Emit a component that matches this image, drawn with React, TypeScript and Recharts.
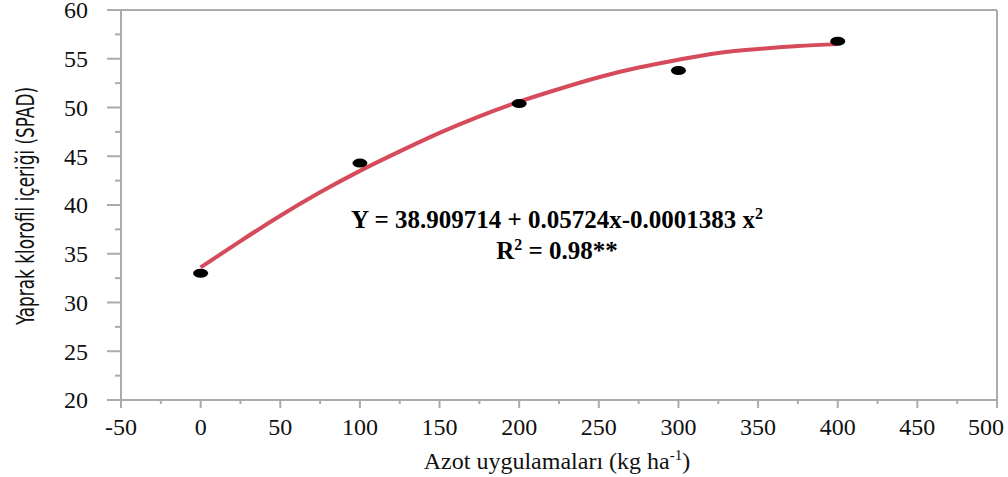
import {
  ComposedChart,
  Line,
  Scatter,
  XAxis,
  YAxis,
  ReferenceLine,
} from "recharts";

// measured points (SPAD by N dose)
const doses = [0, 100, 200, 300, 400];
const spad = [33.0, 44.3, 50.4, 53.8, 56.8];

// fitted curve
const curveX = [0, 25, 50, 75, 100, 125, 150, 175, 200, 225, 250, 275, 300, 325, 350, 375, 400];
const curveY = [33.6, 36.3, 38.9, 41.3, 43.5, 45.5, 47.4, 49.1, 50.6, 51.9, 53.1, 54.1, 54.9, 55.6, 56.0, 56.3, 56.5];

const xTicks = [-50, -25, 0, 25, 50, 75, 100, 125, 150, 175, 200, 225, 250, 275, 300, 325, 350, 375, 400, 425, 450, 475, 500];
const yTicks = [20, 22.5, 25, 27.5, 30, 32.5, 35, 37.5, 40, 42.5, 45, 47.5, 50, 52.5, 55, 57.5, 60];

const points = doses.map((x, i) => ({ x, y: spad[i] }));
const curve = curveX.map((x, i) => ({ x, y: curveY[i] }));

const AXIS = "#ababab";
const serif = { fontFamily: "'Liberation Serif', 'Times New Roman', serif" };

function XTick(props: any) {
  const { x, y, payload } = props;
  const major = payload.value % 50 === 0;
  const last = payload.value === 500;
  return (
    <g>
      <line x1={x} x2={x} y1={y} y2={y + (major ? 8 : 4)} stroke={AXIS} strokeWidth={2} />
      {major && (
        <text
          x={last ? x + 7 : x}
          y={y + 18}
          dy="0.71em"
          textAnchor={last ? "end" : "middle"}
          style={serif}
          fontSize={24}
          fill="#111"
        >
          {payload.value}
        </text>
      )}
    </g>
  );
}

function YTick(props: any) {
  const { x, y, payload } = props;
  const major = payload.value % 5 === 0;
  return (
    <g>
      <line x1={x - (major ? 14 : 6)} x2={x} y1={y} y2={y} stroke={AXIS} strokeWidth={2} />
      {major && (
        <text x={x - 33} y={y} dy="0.35em" textAnchor="end" style={serif} fontSize={24} fill="#111">
          {payload.value}
        </text>
      )}
    </g>
  );
}

const Dot = (props: any) => (
  <ellipse cx={props.cx} cy={props.cy} rx={7.5} ry={4.5} fill="#000" />
);

export default function App() {
  return (
    <div style={{ position: "absolute", left: 0, top: 0, width: 1008, height: 477, background: "#fff" }}>
      <ComposedChart
        width={1008}
        height={477}
        margin={{ top: 10, right: 11, left: 61, bottom: 47 }}
      >
        <XAxis
          dataKey="x"
          type="number"
          domain={[-50, 500]}
          ticks={xTicks}
          interval={0}
          tickSize={0}
          tickMargin={0}
          tick={<XTick />}
          height={30}
          stroke={AXIS}
          strokeWidth={2}
        />
        <YAxis
          type="number"
          domain={[20, 60]}
          ticks={yTicks}
          interval={0}
          tickSize={0}
          tickMargin={0}
          tick={<YTick />}
          width={60}
          stroke={AXIS}
          strokeWidth={2}
        />
        <ReferenceLine y={60} stroke={AXIS} strokeWidth={2} />
        <ReferenceLine x={500} stroke={AXIS} strokeWidth={2} />
        <Line
          data={curve}
          dataKey="y"
          type="natural"
          stroke="#d64b5b"
          strokeWidth={4}
          dot={false}
          activeDot={false}
          isAnimationActive={false}
        />
        <Scatter data={points} dataKey="y" shape={<Dot />} isAnimationActive={false} />
      </ComposedChart>
      <svg
        width={1008}
        height={477}
        style={{ position: "absolute", left: 0, top: 0, pointerEvents: "none" }}
      >
        <text
          transform="translate(34,206) rotate(-90)"
          textAnchor="middle"
          style={{ fontFamily: "Liberation Sans Narrow, DejaVu Sans Condensed, sans-serif" }}
          fontSize={25}
          textLength={238}
          lengthAdjust="spacingAndGlyphs"
          fill="#111"
        >
          Yaprak klorofil içeriği (SPAD)
        </text>
        <text x={557} y={469} textAnchor="middle" style={serif} fontSize={24} fill="#111">
          Azot uygulamaları (kg ha<tspan dy={-9} fontSize={15}>-1</tspan>
          <tspan dy={9}>)</tspan>
        </text>
        <text x={557} y={228} textAnchor="middle" style={serif} fontSize={25} fontWeight="bold" fill="#000">
          Y = 38.909714 + 0.05724x-0.0001383 x<tspan dy={-9} fontSize={16}>2</tspan>
        </text>
        <text x={557} y={259} textAnchor="middle" style={serif} fontSize={25} fontWeight="bold" fill="#000">
          R<tspan dy={-9} fontSize={16}>2</tspan>
          <tspan dy={9}> = 0.98**</tspan>
        </text>
      </svg>
    </div>
  );
}
